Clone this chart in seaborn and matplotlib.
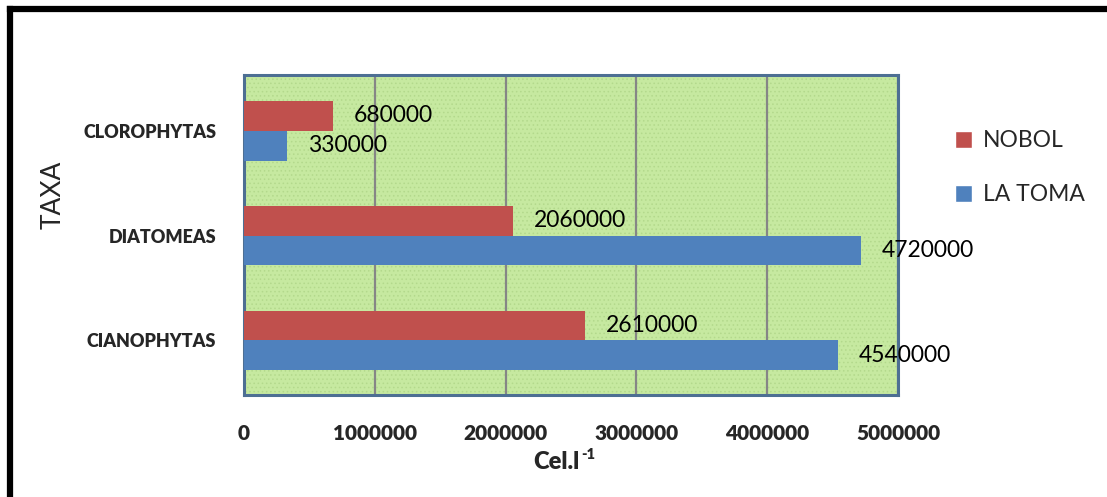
import numpy as np
import pandas as pd
import matplotlib
matplotlib.use("Agg")
import matplotlib.pyplot as plt
from matplotlib.patches import Rectangle, Patch
from matplotlib.lines import Line2D
import seaborn as sns

# -------------------- data --------------------
taxa = ["CLOROPHYTAS", "DIATOMEAS", "CIANOPHYTAS"]
sitios = ["NOBOL", "LA TOMA"]
nobol = [680000, 2060000, 2610000]
la_toma = [330000, 4720000, 4540000]
x_ticks = [0, 1000000, 2000000, 3000000, 4000000, 5000000]

df = pd.DataFrame({
    "taxa": taxa * 2,
    "sitio": ["NOBOL"] * 3 + ["LA TOMA"] * 3,
    "valor": nobol + la_toma,
})

colores = {"NOBOL": "#c0504d", "LA TOMA": "#4f81bd"}

sns.set_style("white")
plt.rcParams["font.family"] = ["Lato", "DejaVu Sans"]

fig = plt.figure(figsize=(11.07, 4.97), dpi=100)
ax = fig.add_axes([244 / 1107, 1 - 395 / 497, (898 - 244) / 1107, (395 - 75) / 497])

# green dotted background of the plot area
ax.set_facecolor("#c6e9a0")
plt.rcParams["hatch.linewidth"] = 0.6
ax.add_patch(Rectangle((0, 0), 1, 1, transform=ax.transAxes, facecolor="none",
                       hatch="....", edgecolor="#b3d98c", lw=0, zorder=0))

sns.barplot(data=df, y="taxa", x="valor", hue="sitio", order=taxa, hue_order=sitios,
            orient="h", palette=colores, width=0.57, saturation=1, ax=ax, zorder=3,
            legend=False, linewidth=0, edgecolor="none")

for cont in ax.containers:
    ax.bar_label(cont, labels=[f"{int(v)}" for v in cont.datavalues], padding=15,
                 fontsize=16.5, color="black", zorder=4)

ax.set_xlim(0, 5000000)
ax.set_ylim(2.52, -0.53)
ax.set_xticks(x_ticks)
ax.set_xticklabels([str(t) for t in x_ticks], fontsize=15, fontweight="heavy")
ax.tick_params(axis="x", direction="out", length=8, width=1.5, color="#868686", pad=13)
ax.tick_params(axis="y", length=0, pad=20)
for lab in ax.get_yticklabels():
    lab.set_fontsize(13)
    lab.set_fontweight("heavy")

ax.grid(axis="x", color="#868686", lw=1.6, zorder=1)
ax.grid(axis="y", visible=False)
ax.set_axisbelow(True)

for sp in ax.spines.values():
    sp.set_color("#4d6f93")
    sp.set_linewidth(2.2)

ax.set_xlabel("Cel.l", fontsize=17, fontweight="heavy")
ax.xaxis.set_label_coords(0.478, -0.175)
ax.annotate("-1", xy=(1.0, 0.85), xycoords=ax.xaxis.label, xytext=(1, 0),
            textcoords="offset points", fontsize=10.5, fontweight="heavy", va="center")
ax.set_ylabel("TAXA", fontsize=19)
ax.yaxis.set_label_coords(-0.272, 0.625)

handles = [Patch(facecolor=colores[s]) for s in sitios]
ax.legend(handles, sitios, loc="center left", bbox_to_anchor=(1.055, 0.71),
          frameon=False, fontsize=16.5, handlelength=0.75, handleheight=0.75,
          labelspacing=1.45, handletextpad=0.5)

# outer chart border (cut at right and bottom like the reference)
fig.add_artist(Line2D([10 / 1107, 10 / 1107], [0, 1 - 9 / 497], color="black", lw=4.5,
                      solid_capstyle="projecting"))
fig.add_artist(Line2D([10 / 1107, 1.0], [1 - 9 / 497, 1 - 9 / 497], color="black", lw=4.5,
                      solid_capstyle="projecting"))

fig.savefig("out.png", dpi=100)
